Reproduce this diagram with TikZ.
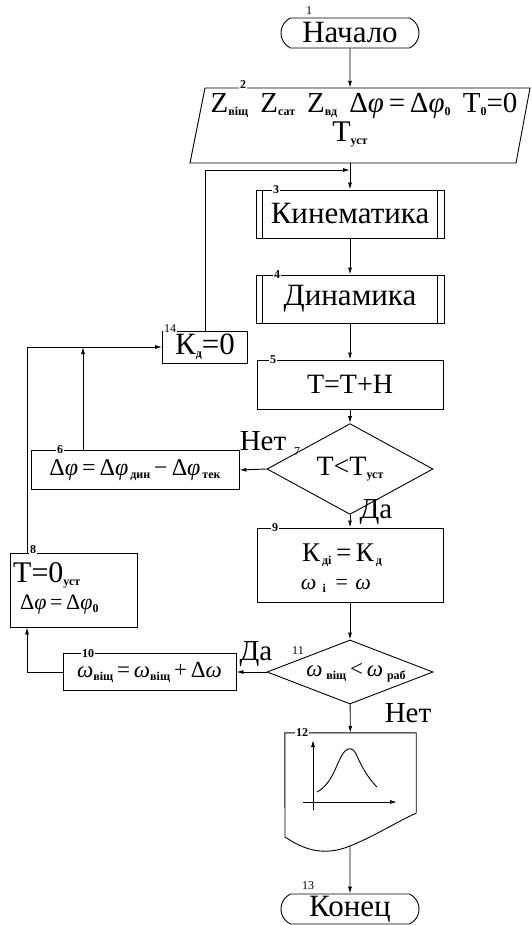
\documentclass[tikz,border=0pt]{standalone}
\usepackage{fontspec}
\setmainfont{Liberation Serif}
\usetikzlibrary{arrows.meta,shapes.geometric,shapes.misc,calc}
% small bold subscripts used throughout the formulas
\newcommand\sbs[1]{\raisebox{-3pt}{\fontsize{12}{12}\selectfont\bfseries #1}}
\newcommand\phiv{\textit{φ}}
\newcommand\omg{\textit{ω}}
\begin{document}
\begin{tikzpicture}[x=1pt,y=-1pt,
  line/.style={line width=0.9pt},
  arr/.style={line,-{Latex[length=7pt,width=4pt]}},
  blk/.style={draw,line width=0.9pt,inner sep=0pt,align=center},
  term/.style={blk,shape=rounded rectangle,rounded rectangle arc length=130,
    minimum width=138pt,minimum height=30pt},
  dec/.style={blk,shape=diamond,minimum width=166pt,minimum height=64pt},
  num/.style={inner sep=0.6pt,font=\fontsize{12}{12}\selectfont},
  numb/.style={num,fill=white,font=\fontsize{12}{12}\selectfont\bfseries},
  numw/.style={num,fill=white},
  word/.style={font=\fontsize{31}{34}\selectfont},
  big/.style={font=\fontsize{28}{30}\selectfont},
  lbl/.style={inner sep=0pt,font=\fontsize{29}{30}\selectfont}]
\useasboundingbox (0,0) rectangle (532,925);
\fill[white] (0,0) rectangle (532,925);

% --- main column -------------------------------------------------------
\node[term,word] (start) at (350,33) {Начало};
\node[numw] (n1) at (309,11) {1};

% input block (parallelogram)
\node[inner sep=0pt,minimum width=300pt,minimum height=75pt] (p2) at (350,125.5) {};
\draw[line] (205,88) -- (530,88) -- (516,163) -- (190,163) -- cycle;
\node[anchor=base,inner sep=0pt,font=\fontsize{29}{32}\selectfont] (p2a) at (364,113)
  {Z\sbs{віщ}\, Z\sbs{сат}\, Z\sbs{вд}\, Δ\phiv\,=\,Δ\phiv\sbs{0}\, T\sbs{0}=0};
\node[anchor=base,inner sep=0pt,font=\fontsize{30}{32}\selectfont] (p2b) at (350,142) {T\sbs{уст}};
\node[numb] (n2) at (243,85) {2};
\coordinate (j1) at (350,170);

% predefined processes
\node[blk,word,minimum width=188pt,minimum height=48pt] (k3) at (350,214) {Кинематика};
\node[blk,word,minimum width=188pt,minimum height=48pt] (k4) at (350,299) {Динамика};
\foreach \b in {k3,k4}{
  \draw[line] ([xshift=7pt]\b.north west) -- ([xshift=7pt]\b.south west);
  \draw[line] ([xshift=-7pt]\b.north east) -- ([xshift=-7pt]\b.south east);
}
\node[numb] (n3) at (276,190) {3};
\node[numb] (n4) at (277,275) {4};

\node[blk,big,minimum width=186pt,minimum height=49pt] (b5) at (350,384.5) {T=T+H};
\node[numb] (n5) at (273,360) {5};

\node[dec,big] (d7) at (350,469) {T<T\sbs{уст}};
\node[num] (n7) at (297,452) {7};
\node[lbl] (no7) at (263,441) {Нет};
\node[lbl] (yes7) at (376,512) {Да};

\node[blk,minimum width=186pt,minimum height=74pt] (b9) at (350,565) {};
\node[inner sep=0pt,font=\fontsize{27}{30}\selectfont] (b9a) at (342,555) {К\sbs{\,дi}\,=\,К\sbs{\,д}};
\node[inner sep=0pt,font=\fontsize{22}{24}\selectfont] (b9b) at (336,586) {\omg\;\sbs{i}\;\,=\,\,\omg};
\node[numb] (n9) at (275,528) {9};

\node[dec] (d11) at (350,672) {};
\node[inner sep=0pt,font=\fontsize{23}{24}\selectfont] (d11t) at (356,673) {\omg\,\sbs{віщ}\,<\,\omg\,\sbs{раб}};
\node[num] (n11) at (298,651) {11};
\node[lbl] (yes11) at (256,654) {Да};
\node[lbl] (no11) at (408,713) {Нет};

% display block with the curve
\node[inner sep=0pt,minimum width=131pt,minimum height=80pt] (b12) at (350.5,773) {};
\draw[line] (b12.south east) -- (b12.north east) -- (b12.north west) -- (285,837)
  .. controls (303,849) and (323,857) .. (350,846)
  .. controls (375,836) and (400,820) .. (b12.south east);
\coordinate (b12b) at (350,846);
\node[numb] (n12) at (302,733) {12};
\coordinate (ax0) at (313,810);
\coordinate (ax1) at (313,740);
\coordinate (ay0) at (303,802);
\coordinate (ay1) at (397,802);
\draw[arr] (ax0) -- (ax1);
\draw[arr] (ay0) -- (ay1);
\draw[line] (317,792) .. controls (332,784) and (336,765) .. (342,755)
  .. controls (347,747) and (353,746) .. (357,756)
  .. controls (363,770) and (370,780) .. (377,787);

\node[term,word] (end) at (350,909) {Конец};
\node[numw] (n13) at (308,886) {13};

% --- left branch ---------------------------------------------------------
\node[blk,word,minimum width=85pt,minimum height=32pt] (b14) at (205,347) {К\sbs{д}=0};
\node[numw] (n14) at (170,329) {14};

\node[blk,font=\fontsize{24}{26}\selectfont,minimum width=208pt,minimum height=39pt] (b6) at (135,470)
  {Δ\phiv\,=\,Δ\phiv\sbs{\,дин}\,−\,Δ\phiv\sbs{\,тек}};
\node[numb] (n6) at (60,450) {6};

\node[blk,minimum width=127pt,minimum height=74pt] (b8) at (73.5,590) {};
\node[inner sep=0pt,anchor=west,font=\fontsize{30}{32}\selectfont] (b8a) at (13,575) {T=0\sbs{уст}};
\node[inner sep=0pt,anchor=west,font=\fontsize{22}{24}\selectfont] (b8b) at (20,605) {Δ\phiv\,=\,Δ\phiv\sbs{0}};
\node[numb] (n8) at (33,550) {8};

\node[blk,font=\fontsize{23}{24}\selectfont,minimum width=173pt,minimum height=37pt] (b10) at (149.5,672)
  {\omg\sbs{віщ}\,=\,\omg\sbs{віщ}\,+\,Δ\omg};
\node[numb] (n10) at (88,654) {10};

\coordinate (lx) at (27,347);
\coordinate (j2) at (83,347);

% --- connectors ------------------------------------------------------------
\draw[arr] (start) -- (p2.north);
\draw[arr] (p2.south) -- (k3);
\draw[arr] (k3) -- (k4);
\draw[arr] (k4) -- (b5);
\draw[arr] (b5) -- (d7);
\draw[arr] (d7) -- (b9);
\draw[arr] (b9) -- (d11);
\draw[arr] (d11) -- (b12);
\draw[arr] (b12b) -- (end);

\draw[arr] (d7.west) -- (b6.east);
\draw[arr] (d11.west) -- (b10.east);
\draw[arr] (b14.north) |- (j1);
\draw[arr] (b6.north -| j2) -- (j2);
\draw[arr] (b8.north -| lx) -- (lx) -- (b14.west);
\draw[arr] (b10.west) -| (b8.south -| lx);
\end{tikzpicture}
\end{document}
